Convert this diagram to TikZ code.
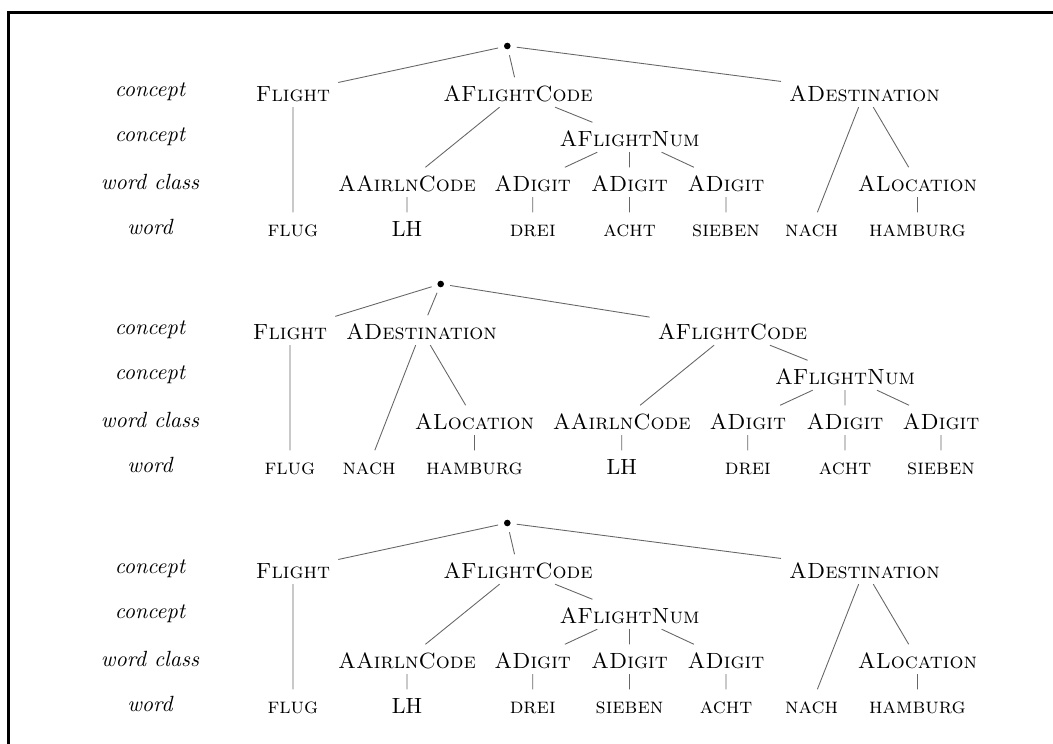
\documentclass[tikz,border=0pt]{standalone}
\begin{document}
\begin{tikzpicture}[x=0.4545pt, y=-0.4545pt]
\tikzset{
  cat/.style={anchor=base, inner xsep=3.5pt, inner ysep=0pt,
              text height=10.9pt, text depth=2.3pt},
  lbl/.style={anchor=base, font=\itshape},
  branch/.style={draw=black!60, line width=0.4pt},
  rootnode/.style={circle, inner sep=0pt, minimum size=8.2pt},
  frameline/.style={line width=1.2pt, black}
}
\useasboundingbox (0,0) rectangle (1053,744);

% open frame: top and left rules
\draw[frameline] (8.7,760) -- (8.7,12.7) -- (1070,12.7);

% row labels, repeated for each tree
\foreach \dy in {0,238,477}{
  \node[lbl] at (150,96.7+\dy) {concept};
  \node[lbl] at (150,141.7+\dy) {concept};
  \node[lbl] at (150,189.7+\dy) {word class};
  \node[lbl] at (150,234.7+\dy) {word};
}

% tree with the flight code before the destination
\newcommand\codefirsttree[3]{%
  \node[rootnode] (r) at (507.3,46) {};
  \fill (r) circle (1.5pt);
  \node[cat] (fl) at (293,101.7) {\textsc{Flight}};
  \node[cat] (fc) at (518,101.7) {\textsc{AFlightCode}};
  \node[cat] (de) at (864.5,101.7) {\textsc{ADestination}};
  \node[cat] (fn) at (629.5,146.7) {\textsc{AFlightNum}};
  \node[cat] (ac) at (407,191.7) {\textsc{AAirlnCode}};
  \node[cat] (d1) at (532.7,191.7) {\textsc{ADigit}};
  \node[cat] (d2) at (629.5,191.7) {\textsc{ADigit}};
  \node[cat] (d3) at (726,191.7) {\textsc{ADigit}};
  \node[cat] (lo) at (917.5,191.7) {\textsc{ALocation}};
  \node[cat] (w0) at (293,236.7) {\textsc{flug}};
  \node[cat] (lh) at (407,236.7) {LH};
  \node[cat] (w1) at (532.7,236.7) {\textsc{#1}};
  \node[cat] (w2) at (629.5,236.7) {\textsc{#2}};
  \node[cat] (w3) at (726,236.7) {\textsc{#3}};
  \node[cat] (na) at (811.5,236.7) {\textsc{nach}};
  \node[cat] (ha) at (917.5,236.7) {\textsc{hamburg}};
  \path[branch] (r) -- (fl) (r) -- (fc) (r) -- (de)
    (fl) -- (w0) (fc) -- (ac) (fc) -- (fn)
    (fn) -- (d1) (fn) -- (d2) (fn) -- (d3)
    (ac) -- (lh) (d1) -- (w1) (d2) -- (w2) (d3) -- (w3)
    (de) -- (na) (de) -- (lo) (lo) -- (ha);
}

\begin{scope}[name prefix=a-]
  \codefirsttree{drei}{acht}{sieben}
\end{scope}

% tree with the destination before the flight code
\begin{scope}[shift={(0,238)}, name prefix=b-]
  \node[rootnode] (r) at (440.7,46) {};
  \fill (r) circle (1.5pt);
  \node[cat] (fl) at (290,101.7) {\textsc{Flight}};
  \node[cat] (de) at (421.5,101.7) {\textsc{ADestination}};
  \node[cat] (fc) at (732.5,101.7) {\textsc{AFlightCode}};
  \node[cat] (fn) at (845,146.7) {\textsc{AFlightNum}};
  \node[cat] (lo) at (474.5,191.7) {\textsc{ALocation}};
  \node[cat] (ac) at (621.7,191.7) {\textsc{AAirlnCode}};
  \node[cat] (d1) at (747.8,191.7) {\textsc{ADigit}};
  \node[cat] (d2) at (845,191.7) {\textsc{ADigit}};
  \node[cat] (d3) at (941,191.7) {\textsc{ADigit}};
  \node[cat] (w0) at (290,236.7) {\textsc{flug}};
  \node[cat] (na) at (369,236.7) {\textsc{nach}};
  \node[cat] (ha) at (474.5,236.7) {\textsc{hamburg}};
  \node[cat] (lh) at (621.7,236.7) {LH};
  \node[cat] (w1) at (747.8,236.7) {\textsc{drei}};
  \node[cat] (w2) at (845,236.7) {\textsc{acht}};
  \node[cat] (w3) at (941,236.7) {\textsc{sieben}};
  \path[branch] (r) -- (fl) (r) -- (de) (r) -- (fc)
    (fl) -- (w0) (de) -- (na) (de) -- (lo) (lo) -- (ha)
    (fc) -- (ac) (fc) -- (fn) (ac) -- (lh)
    (fn) -- (d1) (fn) -- (d2) (fn) -- (d3)
    (d1) -- (w1) (d2) -- (w2) (d3) -- (w3);
\end{scope}

\begin{scope}[shift={(0,477)}, name prefix=c-]
  \codefirsttree{drei}{sieben}{acht}
\end{scope}
\end{tikzpicture}
\end{document}
